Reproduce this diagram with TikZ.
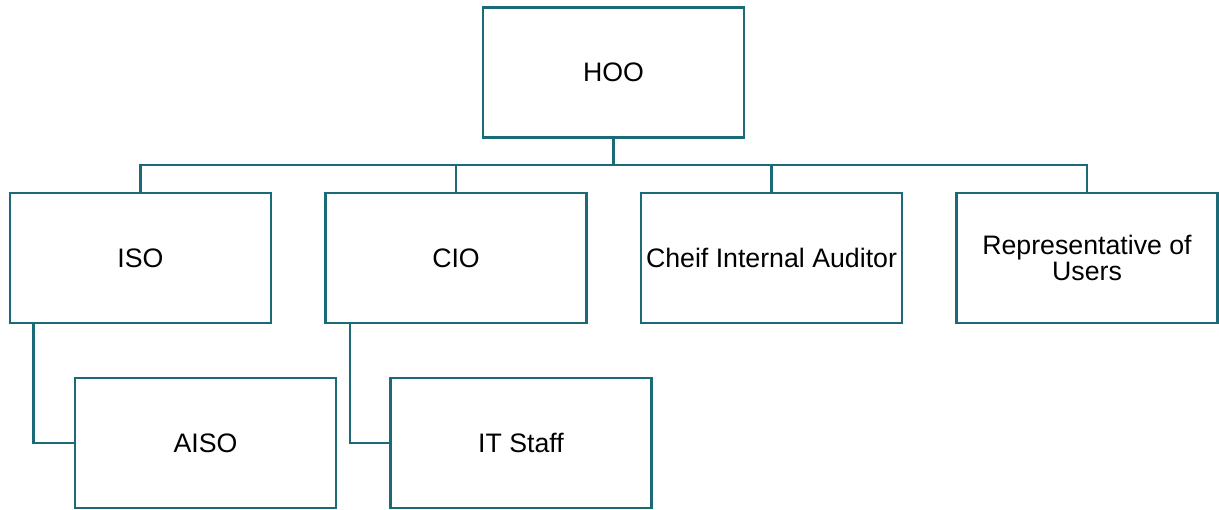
\documentclass[tikz,border=0pt]{standalone}
\usepackage{fontspec}
\setmainfont{Liberation Sans}
\usetikzlibrary{calc}
\definecolor{tealline}{HTML}{1A6A78}
\begin{document}
\begin{tikzpicture}[x=0.025cm, y=-0.025cm,
    post/.style = {draw=tealline, line width=1.8pt, fill=white, rectangle, minimum width=6.525cm, minimum height=3.25cm, inner sep=0pt, align=center, font=\fontsize{19pt}{18.5pt}\selectfont},
    link/.style = {draw=tealline, line width=1.8pt}]
\useasboundingbox (0,0) rectangle (1219,510);
\node[post] (HOO) at (613.5,72.5) {HOO};
\node[post] (ISO) at (140.5,258) {ISO};
\node[post] (CIO) at (456,258) {CIO};
\node[post] (CIA) at (771.5,258) {Cheif Internal Auditor};
\node[post] (RU)  at (1087,258) {Representative of\\Users};
\node[post] (AISO) at (205.5,443) {AISO};
\node[post] (ITS)  at (521,443) {IT Staff};
\coordinate (bus) at (613.5,165);

\draw[link] (HOO) -- (bus);
\draw[link] (ISO.north) |- (bus);
\draw[link] (CIO.north) |- (bus);
\draw[link] (CIA.north) |- (bus);
\draw[link] (RU.north) |- (bus);
\draw[link] ($(ISO.south west)+(25,0)$) |- (AISO.west);
\draw[link] ($(CIO.south west)+(26,0)$) |- (ITS.west);
\end{tikzpicture}
\end{document}
